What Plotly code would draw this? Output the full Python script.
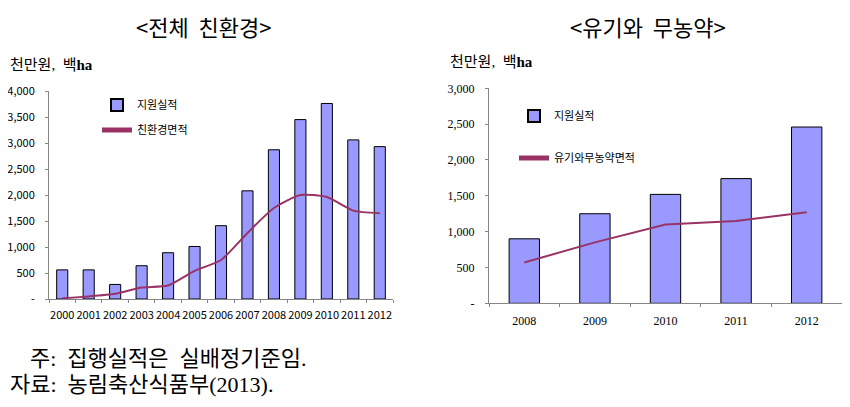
import plotly.graph_objects as go

# ---- data ----
years_all = ["2000", "2001", "2002", "2003", "2004", "2005", "2006",
             "2007", "2008", "2009", "2010", "2011", "2012"]
support_all = [560, 560, 280, 640, 890, 1010, 1410, 2080, 2870, 3450, 3760, 3060, 2930]
area_all = [15, 50, 100, 220, 260, 540, 750, 1270, 1750, 2000, 1960, 1700, 1650]

years_org = ["2008", "2009", "2010", "2011", "2012"]
support_org = [900, 1250, 1520, 1740, 2460]
area_org = [570, 850, 1100, 1150, 1270]

left_tickvals = [0, 500, 1000, 1500, 2000, 2500, 3000, 3500, 4000]
left_ticktext = ["-", "500", "1,000", "1,500", "2,000", "2,500", "3,000", "3,500", "4,000"]
right_tickvals = [0, 500, 1000, 1500, 2000, 2500, 3000]
right_ticktext = ["-", "500", "1,000", "1,500", "2,000", "2,500", "3,000"]

# page has an 8px body margin: figure sized to fit the 850x407 window without scrollbars
OFF = 8
W, H = 850 - 2 * OFF, 407 - 2 * OFF
BAR = "#9999FF"
LINE = "#993366"
AX = "#868686"
SANS = "Noto Sans CJK KR, Noto Sans, sans-serif"
SERIF = "Liberation Serif, Noto Sans CJK KR, serif"

def px(x):
    return min(1.0, max(0.0, (x - OFF) / W))

def py(y):
    return min(1.0, max(0.0, 1 - (y - OFF) / H))

fig = go.Figure()

fig.add_trace(go.Bar(x=years_all, y=support_all, name="지원실적", showlegend=True,
                     marker=dict(color=BAR, line=dict(color="black", width=1)),
                     width=0.42, xaxis="x", yaxis="y", legend="legend"))
fig.add_trace(go.Scatter(x=years_all, y=area_all, name="친환경면적", mode="lines", showlegend=True,
                         line=dict(color=LINE, width=2, shape="spline", smoothing=0.6),
                         xaxis="x", yaxis="y", legend="legend2"))
fig.add_trace(go.Bar(x=years_org, y=support_org, name="지원실적", showlegend=True,
                     marker=dict(color=BAR, line=dict(color="black", width=1)),
                     width=0.43, xaxis="x2", yaxis="y2", legend="legend3"))
fig.add_trace(go.Scatter(x=years_org, y=area_org, name="유기와무농약면적", mode="lines", showlegend=True,
                         line=dict(color=LINE, width=2),
                         xaxis="x2", yaxis="y2", legend="legend4"))

axis_common = dict(showgrid=False, zeroline=False, showline=True, linecolor=AX,
                   linewidth=1, ticks="outside", tickcolor=AX, ticklen=3, automargin=False)

legend_common = dict(bgcolor="rgba(0,0,0,0)", font=dict(family=SANS, size=11, color="black"),
                     xanchor="left", yanchor="middle", itemwidth=30,
                     tracegroupgap=0, itemsizing="constant")

fig.update_layout(
    width=W, height=H,
    margin=dict(l=0, r=0, t=0, b=0, autoexpand=False),
    paper_bgcolor="white", plot_bgcolor="white",
    barmode="overlay",
    showlegend=True,
    xaxis=dict(domain=[px(49), px(393)], anchor="y", tickson="boundaries", tickangle=0,
               ticklabelstandoff=6,
               tickfont=dict(family=SANS, size=11, color="black"), **axis_common),
    yaxis=dict(domain=[py(299), py(91)], anchor="x", range=[0, 4000],
               tickvals=left_tickvals, ticktext=left_ticktext, ticklabelstandoff=8,
               tickfont=dict(family=SANS, size=11, color="black"), **axis_common),
    xaxis2=dict(domain=[px(489), px(842)], anchor="y2", tickson="boundaries", tickangle=0,
                ticklabelstandoff=6,
                tickfont=dict(family=SERIF, size=12, color="black"), **axis_common),
    yaxis2=dict(domain=[py(303.3), py(88.3)], anchor="x2", range=[0, 3000],
                tickvals=right_tickvals, ticktext=right_ticktext, ticklabelstandoff=8,
                tickfont=dict(family=SERIF, size=12, color="black"), **axis_common),
    legend=dict(x=px(97), y=py(105), **legend_common),
    legend2=dict(x=px(97), y=py(130), **legend_common),
    legend3=dict(x=px(514), y=py(116), **legend_common),
    legend4=dict(x=px(514), y=py(158), **legend_common),
)

annotations = [
    dict(text="&lt;전체  친환경&gt;", x=px(203), y=py(26), font=dict(family=SANS, size=22)),
    dict(text="&lt;유기와  무농약&gt;", x=px(648), y=py(26), font=dict(family=SANS, size=22)),
    dict(text="천만원,  백<b>ha</b>", x=px(8), y=py(65), xanchor="left", font=dict(family=SERIF, size=15)),
    dict(text="천만원,  백<b>ha</b>", x=px(448), y=py(62), xanchor="left", font=dict(family=SERIF, size=15)),
    dict(text="주:  집행실적은  실배정기준임.", x=px(28), y=py(358), xanchor="left", font=dict(family=SERIF, size=22)),
    dict(text="자료:  농림축산식품부(2013).", x=px(6), y=py(384), xanchor="left", font=dict(family=SERIF, size=22)),
]
for a in annotations:
    a.update(xref="paper", yref="paper", showarrow=False, yanchor="middle")
    a.setdefault("xanchor", "center")
    a["font"]["color"] = "black"
fig.update_layout(annotations=annotations)

fig.write_html("out.html")
